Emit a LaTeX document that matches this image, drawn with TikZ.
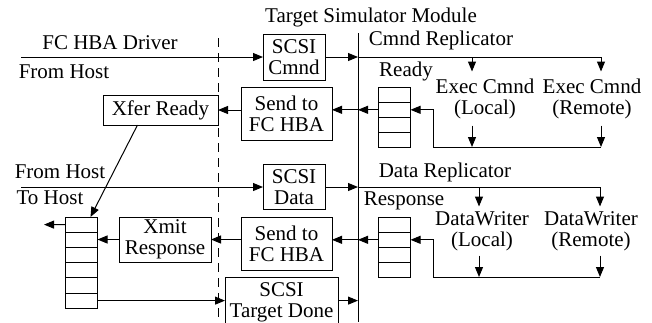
\documentclass[tikz,border=0pt]{standalone}
\usepackage{fontspec}
\setmainfont{Liberation Serif}
\usetikzlibrary{arrows.meta}

\begin{document}
\begin{tikzpicture}[x=1pt, y=-1pt, line width=1pt,
    >={Triangle[length=10pt,width=8pt]},
    every node/.style={font=\fontsize{21}{21}\selectfont, inner sep=0pt, align=center},
    box/.style={draw, outer sep=0pt},
    qcell/.style={draw, minimum width=32pt, minimum height=15.2pt, outer sep=0pt},
    unit/.style={minimum height=#1}]
        \useasboundingbox (0,0) rectangle (652,322);

        % Module boundary and host boundary
        \coordinate (spinetop) at (358,33);
        \coordinate (spinebot) at (358,322);
        \coordinate (dashtop) at (218,38);
        \coordinate (dashbot) at (218,322);
        \draw (spinetop) -- (spinebot);
        \draw[dash pattern=on 9pt off 6pt] (dashtop) -- (dashbot);

        % Titles
        \node (title) at (371,17) {Target Simulator Module};
        \node (driver) at (110,43) {FC HBA Driver};
        \node (fromhost1) at (64,72) {From Host};
        \node (fromhost2) at (60,172) {From Host};
        \node (tohost) at (50,198) {To Host};
        \node (cmndrep) at (441,40) {Cmnd Replicator};
        \node (datarep) at (445,172) {Data Replicator};
        \node (readylbl) at (406,71) {Ready};
        \node (resplbl) at (404,201) {Response};

        % Boxes
        \node[box, minimum width=62pt, minimum height=46pt] (cmnd) at (294,57) {SCSI\\Cmnd};
        \node[box, minimum width=91pt, minimum height=53pt] (send1) at (286.5,113.5) {Send to\\FC HBA};
        \node[box, minimum width=115pt, minimum height=30pt] (xfer) at (160.5,110) {Xfer Ready};
        \node[box, minimum width=62pt, minimum height=45pt] (data) at (294,187) {SCSI\\Data};
        \node[box, minimum width=91pt, minimum height=53pt] (send2) at (286.5,243.5) {Send to\\FC HBA};
        \node[box, minimum width=92pt, minimum height=45pt] (xmit) at (165,239.5) {Xmit\\Response};
        \node[box, minimum width=113pt, minimum height=50pt] (done) at (281.5,302) {SCSI\\Target Done};

        % Replicated units
        \node[unit=53pt] (execl) at (485,98.5) {Exec Cmnd\\(Local)};
        \node[unit=53pt] (execr) at (592,98.5) {Exec Cmnd\\(Remote)};
        \node[unit=48pt] (writel) at (482,231) {DataWriter\\(Local)};
        \node[unit=48pt] (writer) at (591,231) {DataWriter\\(Remote)};

        % Queues
        \foreach \i in {1,...,4} {
            \node[qcell] (ready\i) at (394.5,{87+15.2*(\i-0.5)}) {};
            \node[qcell] (resp\i) at (394.5,{217+15.2*(\i-0.5)}) {};
        }
        \foreach \i in {1,...,6}
            \node[qcell] (host\i) at (81.5,{217+15.2*(\i-0.5)}) {};

        % Command path
        \coordinate (hostin1) at (21,57);
        \coordinate (cmndtapl) at (472,57);
        \coordinate (cmndtapr) at (601,57);
        \coordinate (cmndbend) at (433,147);
        \draw[->] (hostin1) -- (cmnd.west);
        \draw[->] (cmnd.east) -- (cmnd.east -| spinetop);
        \draw (cmnd.east -| spinetop) -- (cmndtapr);
        \draw[->] (cmndtapl) -- (cmndtapl |- execl.north);
        \draw[->] (cmndtapr) -- (cmndtapr |- execr.north);
        \draw[->] (cmndtapl |- execl.south) -- (cmndtapl |- cmndbend);
        \draw[->] (cmndtapr |- execr.south) -- (cmndtapr |- cmndbend);
        \draw[->] (cmndtapr |- cmndbend) -- (cmndbend) |- (ready2.east);
        \draw[->] (ready2.west) -- (ready2.west -| spinetop);
        \draw[->] (ready2.west -| spinetop) -- (ready2.west -| send1.east);
        \draw[->] (send1.west |- xfer.east) -- (xfer.east);
        \draw[->] ([xshift=-23pt]xfer.south) -- ([xshift=9pt]host1.north);

        % Data path
        \coordinate (hostin2) at (21,187);
        \coordinate (datatapl) at (479,187);
        \coordinate (datatapr) at (600,187);
        \coordinate (databend) at (433,277);
        \coordinate (hostout) at (44,224.6);
        \draw[->] (hostin2) -- (data.west);
        \draw[->] (data.east) -- (data.east -| spinetop);
        \draw (data.east -| spinetop) -- (datatapr);
        \draw[->] (datatapl) -- (datatapl |- writel.north);
        \draw[->] (datatapr) -- (datatapr |- writer.north);
        \draw[->] (datatapl |- writel.south) -- (datatapl |- databend);
        \draw[->] (datatapr |- writer.south) -- (datatapr |- databend);
        \draw[->] (datatapr |- databend) -- (databend) |- (resp2.east);
        \draw[->] (resp2.west) -- (resp2.west -| spinetop);
        \draw[->] (resp2.west -| spinetop) -- (resp2.west -| send2.east);
        \draw[->] (send2.west |- xmit.east) -- (xmit.east);
        \draw[->] (xmit.west) -- (xmit.west -| host2.east);
        \draw[->] (host1.west) -- (hostout);
        \draw[->] (host6.east) -- (host6.east -| done.west);
        \draw[->] (done.east |- host6.east) -- (host6.east -| spinetop);
\end{tikzpicture}
\end{document}
